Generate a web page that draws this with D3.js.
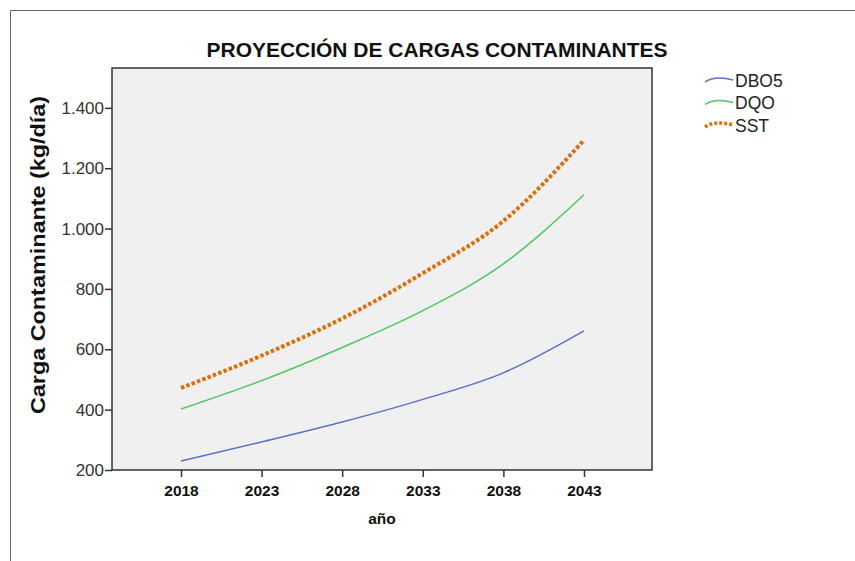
<!DOCTYPE html>
<html><head><meta charset="utf-8">
<script src="https://cdn.jsdelivr.net/npm/d3@7"></script>
<style>body{margin:0;background:#fff}svg{display:block}</style>
</head><body>
<svg id="c" width="855" height="561"></svg>
<script>
const years = [2018, 2023, 2028, 2033, 2038, 2043];
const dbo5 = [230, 293, 359, 434, 522, 661];
const dqo  = [402, 496, 606, 728, 883, 1112];
const sst  = [472, 579, 702, 852, 1025, 1293];
const yTicks = [200, 400, 600, 800, 1000, 1200, 1400];
const seriesNames = ["DBO5", "DQO", "SST"];
const seriesValues = [dbo5, dqo, sst];

const svg = d3.select("#c");
const FF = "Liberation Sans, Arial, sans-serif";
const colors = {DBO5: "#5b70c7", DQO: "#4ec764", SST: "#d9700f"};
const L = 112, R = 652, T = 68, B = 470;

svg.append("path").attr("d", "M10.5,561 L10.5,10.5 L855,10.5").attr("fill","none").attr("stroke","#666").attr("stroke-width",1);

const x = d3.scaleLinear().domain([2013.72, 2047.22]).range([L, R]);
const y = d3.scaleLinear().domain([200, 1532]).range([B, T]);

svg.append("rect").attr("x", L).attr("y", T).attr("width", R-L).attr("height", B-T)
  .attr("fill", "#f0f0f0");

const fmt = v => d3.format(",")(v).replace(/,/g, ".");

const ya = svg.append("g").attr("transform", `translate(${L},0)`)
  .call(d3.axisLeft(y).tickValues(yTicks).tickSize(7).tickSizeOuter(0).tickFormat(fmt));
ya.select(".domain").remove();
ya.selectAll("line").attr("stroke", "#333").attr("stroke-width", 1.5);
ya.selectAll("text").attr("font-family", FF).attr("font-size", 17)
  .attr("fill", "#333").attr("x", -8);

const xa = svg.append("g").attr("transform", `translate(0,${B})`)
  .call(d3.axisBottom(x).tickValues(years).tickSize(7).tickSizeOuter(0).tickFormat(d3.format("d")));
xa.select(".domain").remove();
xa.selectAll("line").attr("stroke", "#333").attr("stroke-width", 1.5);
xa.selectAll("text").attr("font-family", FF).attr("font-size", 15.5)
  .attr("font-weight", "bold").attr("fill", "#111").attr("y", 15);

svg.append("rect").attr("x", L).attr("y", T).attr("width", R-L).attr("height", B-T)
  .attr("fill", "none").attr("stroke", "#333").attr("stroke-width", 1.5);

const line = d3.line().x((d,i) => x(years[i])).y(d => y(d)).curve(d3.curveMonotoneX);

seriesNames.forEach((name, k) => {
  const p = svg.append("path").datum(seriesValues[k]).attr("d", line)
    .attr("fill", "none").attr("stroke", colors[name]);
  if (name === "SST") p.attr("stroke-width", 4).attr("stroke-dasharray", "3.5,2.2");
  else p.attr("stroke-width", 1.5);
});

svg.append("text").attr("x", 437).attr("y", 57).attr("text-anchor", "middle")
  .attr("font-family", FF).attr("font-size", 20).attr("font-weight", "bold")
  .attr("textLength", 461).attr("lengthAdjust", "spacingAndGlyphs")
  .attr("fill", "#111").text("PROYECCIÓN DE CARGAS CONTAMINANTES");

svg.append("text").attr("x", 382).attr("y", 524).attr("text-anchor", "middle")
  .attr("font-family", FF).attr("font-size", 15.5).attr("font-weight", "bold")
  .attr("fill", "#111").text("año");
svg.append("text").attr("transform", "translate(45,255) rotate(-90)").attr("text-anchor", "middle")
  .attr("font-family", FF).attr("font-size", 21).attr("font-weight", "bold")
  .attr("textLength", 318).attr("lengthAdjust", "spacingAndGlyphs")
  .attr("fill", "#111").text("Carga Contaminante (kg/día)");

const lg = svg.append("g");
seriesNames.forEach((name, k) => {
  const cy = 80 + k * 22.5;
  const p = lg.append("path")
    .attr("d", `M705,${cy+2} C712,${cy-3} 722,${cy-3} 733,${cy}`)
    .attr("fill", "none").attr("stroke", colors[name]);
  if (name === "SST") p.attr("stroke-width", 3.5).attr("stroke-dasharray", "3,2");
  else p.attr("stroke-width", 1.5);
  lg.append("text").attr("x", 735).attr("y", cy + 6.5)
    .attr("font-family", FF).attr("font-size", 17.5)
    .attr("fill", "#222").text(name);
});
</script>
</body></html>
